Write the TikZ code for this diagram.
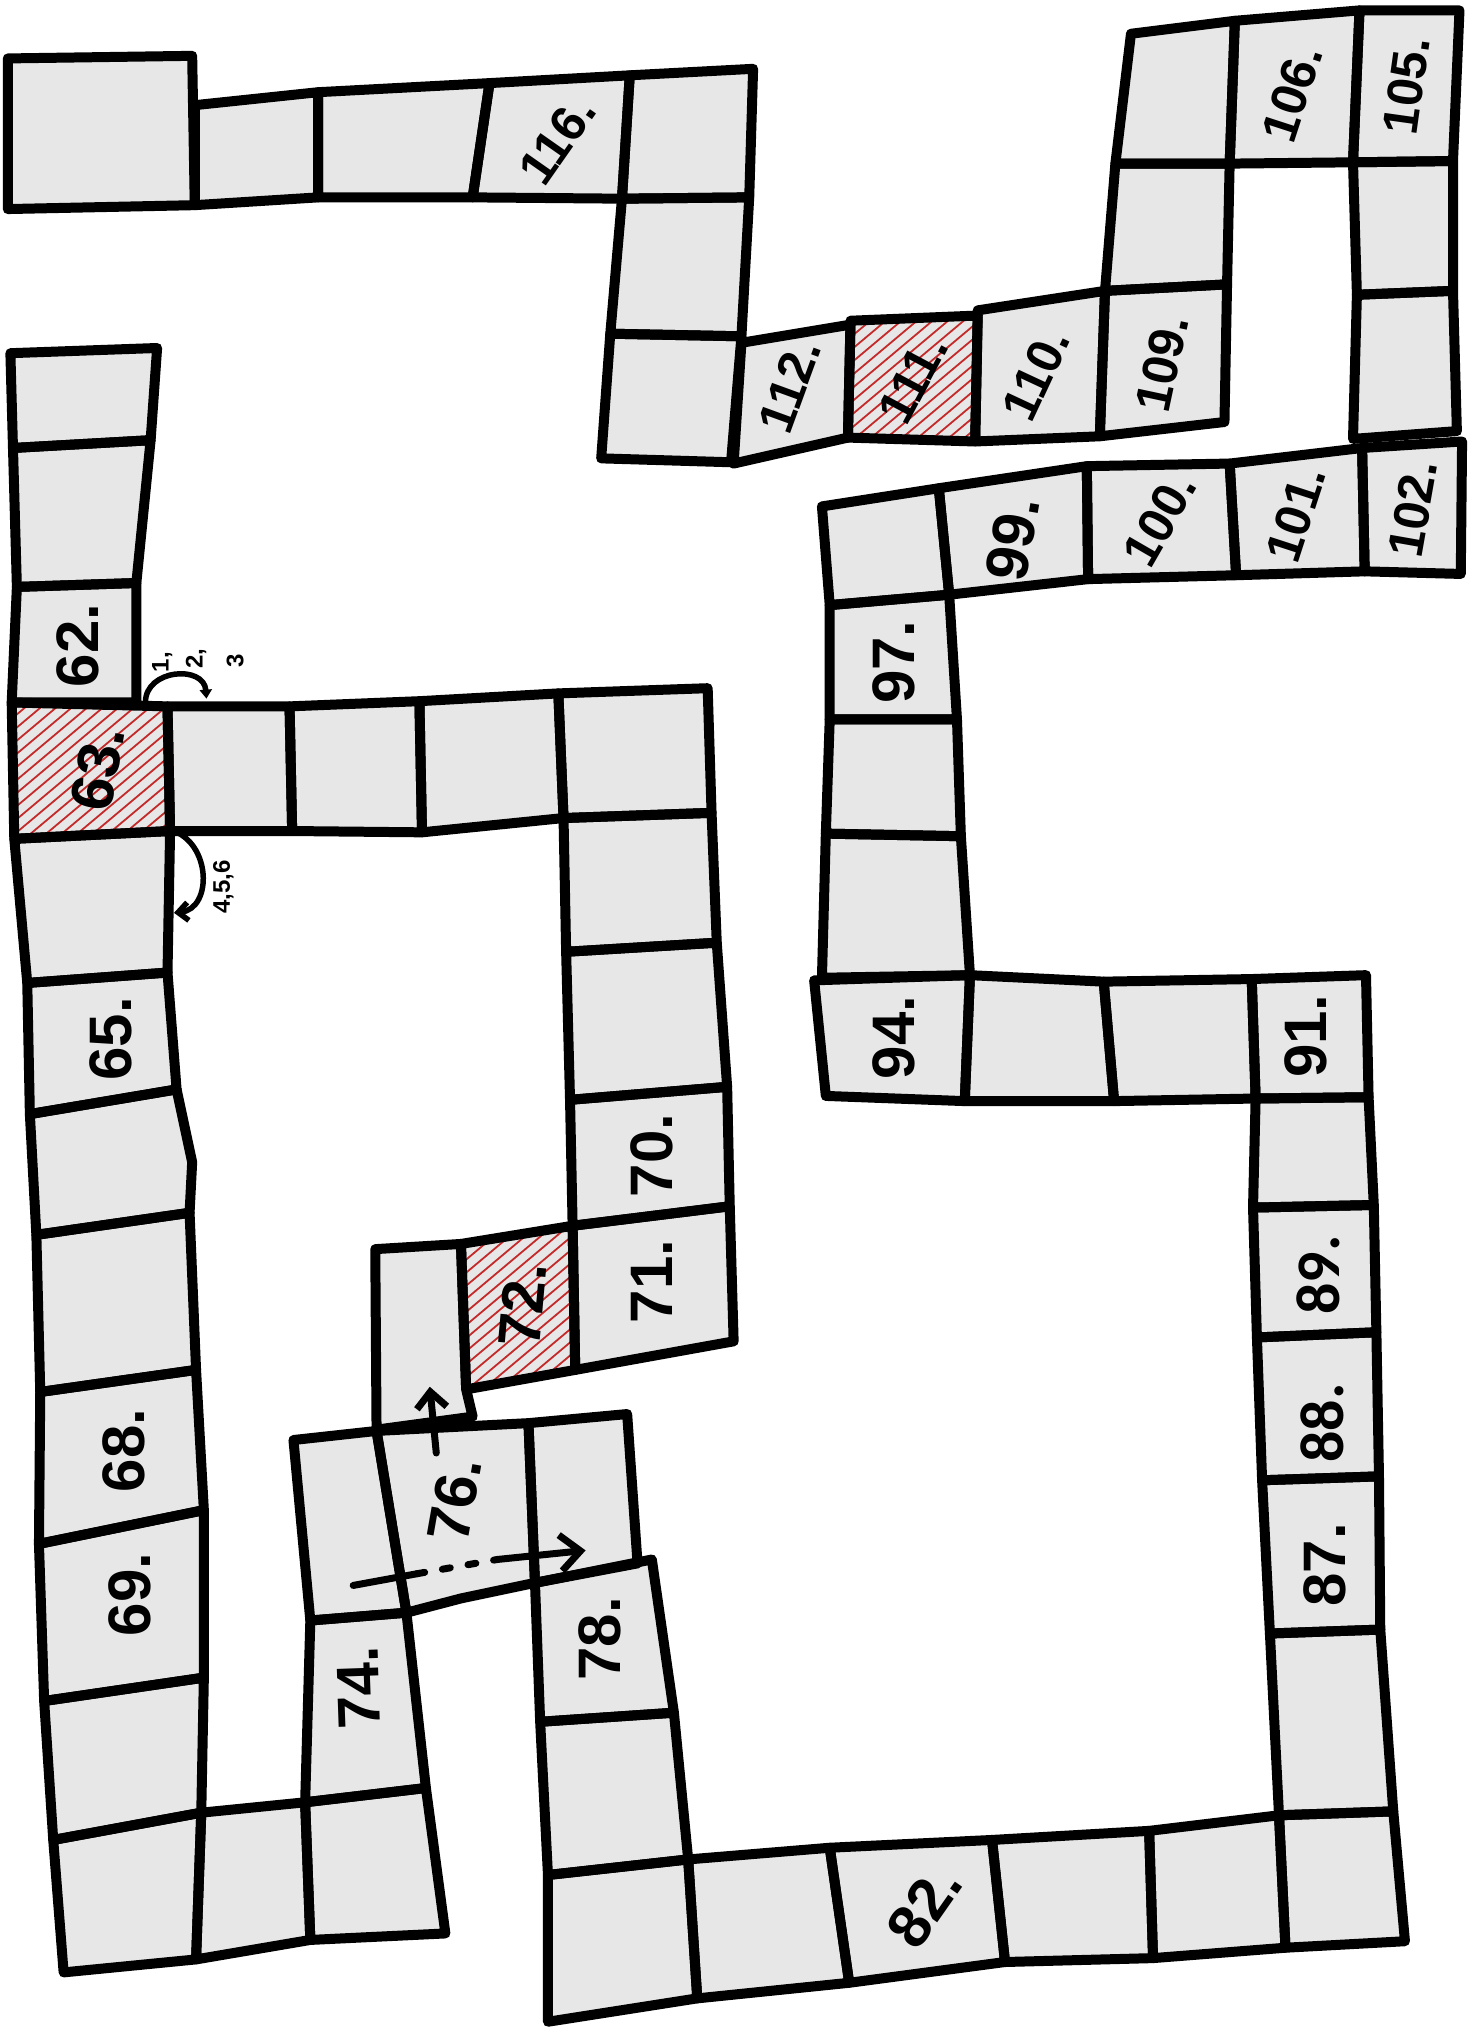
\documentclass[tikz,border=0pt]{standalone}
\usepackage{fontspec}
\setmainfont{Liberation Sans}
\newfontfamily\typedfont{Carlito}
\usetikzlibrary{arrows.meta}
\definecolor{cellg}{HTML}{E7E7E7}
\definecolor{hatchred}{HTML}{C42A2A}
\newcommand\BQfill[1]{\fill[cellg] #1 -- cycle;}
\newcommand\BQdraw[1]{\draw[cellline] #1 -- cycle;}
\newcommand\hatchcell[2]{\begin{scope}\clip #2 -- cycle;
  \foreach \k in {-14,...,14} {\draw[hatchline, shift={#1}] (\k*12-100,84) -- ++(200,-168);}
  \end{scope}}
\newcommand\board{%
\BQ{(6,45)--(148,43)--(150,158)--(6,161)}
\BQ{(150,81)--(245,71)--(245,152)--(150,158)}
\BQ{(245,71)--(377,64)--(364,152)--(245,152)}
\BQ{(377,64)--(485,58)--(479,153)--(364,152)}
\BQ{(485,58)--(580,53)--(577,152)--(479,153)}
\BQ{(479,153)--(577,152)--(571,259)--(470,257)}
\BQ{(470,257)--(571,259)--(563,356)--(463,353)}
\BQ{(571,264)--(655,250)--(653,337)--(565,357)}
\BQ{(655,247)--(753,243)--(751,340)--(653,337)}
\BQ{(753,239)--(851,224)--(847,336)--(751,340)}
\BQ{(851,224)--(945,219)--(943,325)--(847,336)}
\BQ{(859,126)--(947,126)--(945,219)--(851,224)}
\BQ{(871,26)--(951,16)--(947,126)--(859,126)}
\BQ{(951,16)--(1047,8)--(1042,125)--(947,126)}
\BQ{(1047,8)--(1124,8)--(1119,124)--(1042,125)}
\BQ{(1042,125)--(1119,124)--(1119,224)--(1045,227)}
\BQ{(1045,227)--(1119,224)--(1122,332)--(1042,338)}
\BQ{(1049,345)--(1126,340)--(1125,442)--(1051,440)}
\BQ{(947,357)--(1049,345)--(1051,440)--(952,443)}
\BQ{(837,359)--(947,357)--(952,443)--(838,446)}
\BQ{(723,376)--(837,359)--(838,446)--(731,458)}
\BQ{(633,390)--(723,376)--(731,458)--(639,466)}
\BQ{(639,466)--(731,458)--(737,554)--(639,554)}
\BQ{(639,554)--(737,554)--(740,644)--(636,642)}
\BQ{(636,642)--(740,644)--(747,751)--(633,753)}
\BQ{(627,755)--(747,751)--(743,848)--(636,844)}
\BQ{(747,751)--(850,756)--(858,848)--(743,848)}
\BQ{(850,756)--(964,754)--(967,846)--(858,848)}
\BQ{(964,754)--(1052,751)--(1054,845)--(967,846)}
\BQ{(967,846)--(1054,845)--(1058,928)--(965,930)}
\BQ{(965,930)--(1058,928)--(1060,1026)--(968,1030)}
\BQ{(968,1030)--(1060,1026)--(1062,1137)--(972,1140)}
\BQ{(972,1140)--(1062,1137)--(1063,1255)--(978,1258)}
\BQ{(978,1258)--(1063,1255)--(1073,1395)--(985,1398)}
\BQ{(985,1398)--(1073,1395)--(1082,1495)--(990,1500)}
\BQ{(885,1410)--(985,1398)--(990,1500)--(888,1508)}
\BQ{(764,1417)--(885,1410)--(888,1508)--(774,1511)}
\BQ{(639,1423)--(764,1417)--(774,1511)--(654,1527)}
\BQ{(530,1432)--(639,1423)--(654,1527)--(537,1539)}
\BQ{(422,1444)--(530,1432)--(537,1539)--(422,1557)}
\BQ{(416,1326)--(519,1319)--(530,1432)--(422,1444)}
\BQ{(412,1219)--(502,1201)--(519,1319)--(416,1326)}
\BQ{(407,1096)--(483,1089)--(491,1204)--(412,1219)}
\BQ{(290,1102)--(407,1096)--(412,1219)--(355,1231)--(313,1242)}
\BQ{(226,1109)--(290,1102)--(313,1242)--(239,1248)}
\BQ{(239,1248)--(313,1242)--(328,1377)--(235,1388)}
\BQ{(235,1388)--(328,1377)--(343,1489)--(239,1494)}
\BQ{(155,1396)--(235,1388)--(239,1494)--(151,1509)}
\BQ{(41,1417)--(155,1396)--(151,1509)--(49,1519)}
\BQ{(34,1310)--(157,1292)--(155,1396)--(41,1417)}
\BQ{(30,1189)--(157,1163)--(157,1292)--(34,1310)}
\BQ{(31,1072)--(151,1055)--(157,1163)--(30,1189)}
\BQ{(28,951)--(146,934)--(151,1055)--(31,1072)}
\BQ{(23,858)--(136,839)--(148,895)--(146,934)--(28,951)}
\BQ{(21,757)--(129,749)--(136,839)--(23,858)}
\BQ{(11,646)--(131,640)--(129,749)--(21,757)}
\BQ{(9,541)--(129,544)--(131,640)--(11,646)}
\BQ{(13,452)--(105,449)--(105,541)--(9,541)}
\BQ{(10,345)--(116,339)--(105,449)--(13,452)}
\BQ{(8,272)--(121,268)--(116,339)--(10,345)}
\BQ{(129,544)--(223,544)--(225,640)--(131,640)}
\BQ{(223,544)--(323,540)--(325,641)--(225,640)}
\BQ{(323,540)--(430,534)--(434,630)--(325,641)}
\BQ{(430,534)--(545,530)--(548,626)--(434,630)}
\BQ{(434,630)--(548,626)--(552,726)--(436,733)}
\BQ{(436,733)--(552,726)--(560,837)--(439,847)}
\BQ{(439,847)--(560,837)--(562,929)--(441,944)}
\BQ{(441,944)--(562,929)--(565,1033)--(443,1055)}
\BQ{(355,958)--(441,944)--(443,1055)--(359,1070)}
\BQ{(289,962)--(355,958)--(359,1070)--(364,1091)--(290,1101)}
}
\begin{document}
\begin{tikzpicture}[x=1.299pt,y=-1.299pt,line join=round,line cap=round,
  cellline/.style={draw=black,line width=10pt},
  hatchline/.style={draw=hatchred,line width=1.8pt},
  lab/.style={font=\fontsize{60}{60}\selectfont\bfseries,inner sep=0pt},
  labs/.style={font=\fontsize{50}{50}\selectfont\bfseries,inner sep=0pt},
  typ/.style={font=\typedfont\fontsize{62}{62}\selectfont\bfseries,inner sep=0pt},
  tiny/.style={font=\fontsize{24}{24}\selectfont\bfseries,inner sep=0pt},
  arr/.style={draw=black,line width=5.5pt},
  arrb/.style={draw=black,line width=7pt}]
\fill[white] (0,0) rectangle (1137,1568);
\useasboundingbox (0,0) rectangle (1137,1568);
% cell fills
\let\BQ\BQfill
\board
% hatched cells
\hatchcell{(70,593)}{(9,541)--(129,544)--(131,640)--(11,646)}
\hatchcell{(703,290)}{(655,247)--(753,243)--(751,340)--(653,337)}
\hatchcell{(399,1007)}{(355,958)--(441,944)--(443,1055)--(359,1070)}
% cell outlines
\let\BQ\BQdraw
\board
% labels
\node[labs,rotate=55] (l116) at (429,108) {116.};
\node[labs,rotate=70] (l112) at (608,297) {112.};
\node[labs,rotate=62] (l111) at (703,292) {111.};
\node[labs,rotate=65] (l110) at (798,288) {110.};
\node[labs,rotate=78] (l109) at (895,280) {109.};
\node[labs,rotate=72] (l106) at (995,72) {106.};
\node[labs,rotate=82] (l105) at (1083,66) {105.};
\node[labs,rotate=80] (l102) at (1088,392) {102.};
\node[labs,rotate=72] (l101) at (998,396) {101.};
\node[labs,rotate=60] (l100) at (893,400) {100.};
\node[lab,rotate=80] (l99) at (780,415) {99.};
\node[lab,rotate=90] (l97) at (688,510) {97.};
\node[lab,rotate=90] (l94) at (688,799) {94.};
\node[lab,rotate=90] (l91) at (1006,798) {91.};
\node[typ,rotate=90] (l89) at (1015,982) {89.};
\node[typ,rotate=90] (l88) at (1018,1096) {88.};
\node[lab,rotate=90] (l87) at (1020,1205) {87.};
\node[lab,rotate=55] (l82) at (712,1468) {82.};
\node[lab,rotate=90] (l78) at (462,1262) {78.};
\node[lab,rotate=92] (l74) at (276,1300) {74.};
\node[lab,rotate=80] (l76) at (350,1155) {76.};
\node[lab,rotate=85] (l72) at (402,1005) {72.};
\node[lab,rotate=90] (l71) at (502,987) {71.};
\node[lab,rotate=90] (l70) at (502,890) {70.};
\node[lab,rotate=90] (l69) at (100,1228) {69.};
\node[lab,rotate=90] (l68) at (95,1117) {68.};
\node[lab,rotate=90] (l65) at (85,800) {65.};
\node[lab,rotate=80] (l63) at (75,592) {63.};
\node[lab,rotate=90] (l62) at (60,497) {62.};
% small dice labels
\node[tiny,rotate=90] (t1) at (125,510) {1,};
\node[tiny,rotate=90] (t2) at (151,507) {2,};
\node[tiny,rotate=90] (t3) at (181,509) {3};
\node[tiny,rotate=90] (t456) at (172,683) {4,5,6};
% arrows at 63
\coordinate (a1s) at (112,541);
\coordinate (a1e) at (159,538);
\draw[arr,-{Triangle[length=9pt,width=12pt]}] (a1s) .. controls (112,515) and (157,512) .. (a1e);
\coordinate (a2s) at (131,639);
\coordinate (a2e) at (134,703);
\draw[arr,-{Straight Barb[length=10pt,width=18pt]}] (a2s) .. controls (163,648) and (164,700) .. (a2e);
% arrows at 76
\coordinate (b1) at (336,1119);
\coordinate (b2) at (331,1068);
\draw[arrb,-{Straight Barb[length=16pt,width=30pt]}] (b1) -- (b2);
\coordinate (d0) at (272,1221);
\coordinate (d1) at (321,1212);
\coordinate (d2) at (383,1201);
\coordinate (d3) at (451,1194);
\draw[arrb] (d0) -- (d1);
\draw[arrb,dash pattern=on 8pt off 18pt] (d1) -- (d2);
\draw[arrb,-{Straight Barb[length=20pt,width=36pt]}] (d2) -- (d3);
\end{tikzpicture}
\end{document}
